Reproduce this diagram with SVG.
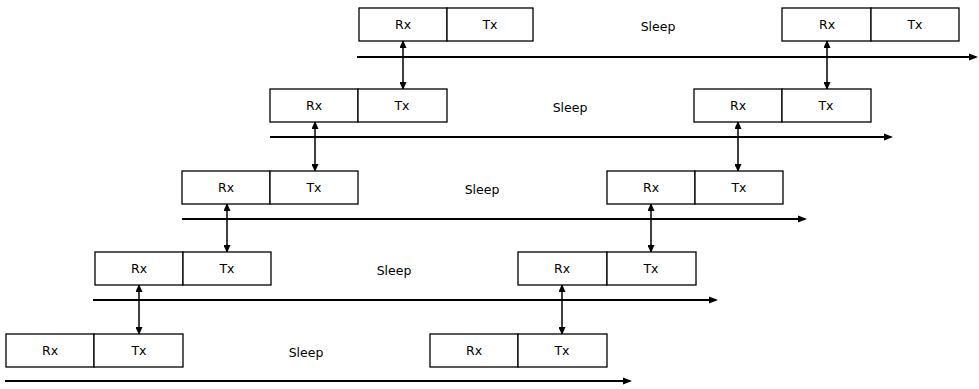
<svg xmlns="http://www.w3.org/2000/svg" width="979" height="389" viewBox="0 0 979 389">
  <style>
    .box { fill: #ffffff; stroke: #000000; stroke-width: 1.3; }
    .lbl { font-family: "DejaVu Sans", Verdana, sans-serif; font-size: 12.5px; fill: #000000; text-anchor: middle; }
    .time { stroke: #000000; stroke-width: 2; fill: none; marker-end: url(#head); }
    .link { stroke: #000000; stroke-width: 1.5; fill: none; marker-start: url(#tip); marker-end: url(#tip); }
  </style>
  <defs>
    <marker id="head" viewBox="0 0 9 8" refX="7" refY="4" markerWidth="9" markerHeight="8" markerUnits="userSpaceOnUse" orient="auto">
      <path d="M0,0.5 L9,4 L0,7.5 z" fill="#000000"/>
    </marker>
    <marker id="tip" viewBox="0 0 8 7" refX="7" refY="3.5" markerWidth="8" markerHeight="7" markerUnits="userSpaceOnUse" orient="auto-start-reverse">
      <path d="M0,0 L8,3.5 L0,7 z" fill="#000000"/>
    </marker>
  </defs>

  <!-- timelines and Rx/Tx links between neighbouring nodes -->
  <g id="connectors">
    <line class="time" x1="357" y1="57" x2="976" y2="57"/>
    <line class="time" x1="270" y1="137" x2="891" y2="137"/>
    <line class="time" x1="182" y1="219" x2="805" y2="219"/>
    <line class="time" x1="93" y1="300" x2="716" y2="300"/>
    <line class="time" x1="5" y1="381" x2="630" y2="381"/>

    <line class="link" x1="403" y1="41" x2="403" y2="89"/>
    <line class="link" x1="315" y1="122" x2="315" y2="171"/>
    <line class="link" x1="227" y1="204" x2="227" y2="252"/>
    <line class="link" x1="139" y1="285" x2="139" y2="334"/>

    <line class="link" x1="827" y1="41" x2="827" y2="89"/>
    <line class="link" x1="738" y1="122" x2="738" y2="171"/>
    <line class="link" x1="651" y1="204" x2="651" y2="252"/>
    <line class="link" x1="562" y1="285" x2="562" y2="334"/>
  </g>

  <!-- node 1 (top row) -->
  <g id="node1">
    <rect class="box" x="359" y="8" width="88" height="33"/>
    <rect class="box" x="447" y="8" width="86" height="33"/>
    <text class="lbl" x="403" y="29">Rx</text>
    <text class="lbl" x="490" y="29">Tx</text>
    <text class="lbl" x="658" y="31">Sleep</text>
    <rect class="box" x="782" y="8" width="89" height="33"/>
    <rect class="box" x="871" y="8" width="88" height="33"/>
    <text class="lbl" x="827" y="29">Rx</text>
    <text class="lbl" x="915" y="29">Tx</text>
  </g>

  <!-- node 2 -->
  <g id="node2">
    <rect class="box" x="270" y="89" width="88" height="33"/>
    <rect class="box" x="358" y="89" width="89" height="33"/>
    <text class="lbl" x="314" y="110">Rx</text>
    <text class="lbl" x="402" y="110">Tx</text>
    <text class="lbl" x="570" y="112">Sleep</text>
    <rect class="box" x="694" y="89" width="88" height="33"/>
    <rect class="box" x="782" y="89" width="89" height="33"/>
    <text class="lbl" x="738" y="110">Rx</text>
    <text class="lbl" x="826" y="110">Tx</text>
  </g>

  <!-- node 3 -->
  <g id="node3">
    <rect class="box" x="182" y="171" width="88" height="33"/>
    <rect class="box" x="270" y="171" width="88" height="33"/>
    <text class="lbl" x="226" y="192">Rx</text>
    <text class="lbl" x="314" y="192">Tx</text>
    <text class="lbl" x="482" y="194">Sleep</text>
    <rect class="box" x="607" y="171" width="88" height="33"/>
    <rect class="box" x="695" y="171" width="88" height="33"/>
    <text class="lbl" x="651" y="192">Rx</text>
    <text class="lbl" x="739" y="192">Tx</text>
  </g>

  <!-- node 4 -->
  <g id="node4">
    <rect class="box" x="95" y="252" width="88" height="33"/>
    <rect class="box" x="183" y="252" width="88" height="33"/>
    <text class="lbl" x="139" y="273">Rx</text>
    <text class="lbl" x="227" y="273">Tx</text>
    <text class="lbl" x="394" y="275">Sleep</text>
    <rect class="box" x="518" y="252" width="89" height="33"/>
    <rect class="box" x="607" y="252" width="89" height="33"/>
    <text class="lbl" x="562" y="273">Rx</text>
    <text class="lbl" x="651" y="273">Tx</text>
  </g>

  <!-- node 5 (bottom row) -->
  <g id="node5">
    <rect class="box" x="6" y="334" width="88" height="33"/>
    <rect class="box" x="94" y="334" width="89" height="33"/>
    <text class="lbl" x="50" y="355">Rx</text>
    <text class="lbl" x="139" y="355">Tx</text>
    <text class="lbl" x="306" y="357">Sleep</text>
    <rect class="box" x="430" y="334" width="88" height="33"/>
    <rect class="box" x="518" y="334" width="89" height="33"/>
    <text class="lbl" x="474" y="355">Rx</text>
    <text class="lbl" x="562" y="355">Tx</text>
  </g>
</svg>
